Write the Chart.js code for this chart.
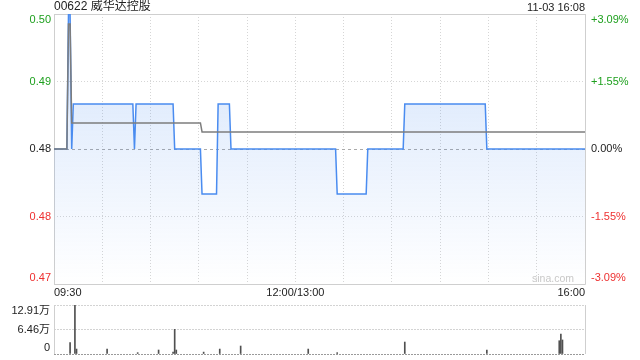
<!DOCTYPE html>
<html>
<head>
<meta charset="utf-8">
<script src="https://cdn.jsdelivr.net/npm/chart.js@4.4.0/dist/chart.umd.min.js"></script>
<style>
  html, body { margin: 0; padding: 0; background: #fff; }
  #wrap { position: relative; width: 640px; height: 360px; overflow: hidden; }
  #price { position: absolute; left: 0; top: 0; }
  #volume { position: absolute; left: 0; top: 295px; }
</style>
</head>
<body>
<div id="wrap">
  <canvas id="price" width="640" height="300"></canvas>
  <canvas id="volume" width="640" height="65"></canvas>
</div>
<script>
const title = '00622 威华达控股';
const stamp = '11-03 16:08';
const prevClose = 0.485;

const priceTicks = [0.47, 0.4775, 0.485, 0.4925, 0.5];
const priceLabels = ['0.47', '0.48', '0.48', '0.49', '0.50'];
const pctLabels = ['-3.09%', '-1.55%', '0.00%', '+1.55%', '+3.09%'];
const timeTicks = [0, 30, 60, 90, 120, 150, 180, 210, 240, 270, 300, 330];
const timeLabels = ['09:30', '12:00/13:00', '16:00'];
const timeLabelAt = [0, 150, 330];

// minutes after 09:30, lunch break removed
const priceMinutes = [0, 8, 9, 10, 11, 12, 49, 50, 51, 74, 75, 91, 92, 101, 102, 109, 110, 175, 176, 194, 195, 217, 218, 268, 269, 330];
const prices = [0.485, 0.485, 0.5, 0.5, 0.485, 0.49, 0.49, 0.485, 0.49, 0.49, 0.485, 0.485, 0.48, 0.48, 0.49, 0.49, 0.485, 0.485, 0.48, 0.48, 0.485, 0.485, 0.49, 0.49, 0.485, 0.485];

const avgMinutes = [0, 8, 9, 10, 11, 91, 92, 330];
const avgPrices = [0.485, 0.485, 0.4989, 0.4989, 0.4879, 0.4879, 0.4869, 0.4869];

const volMinutes = [10, 13, 14, 33, 52, 65, 74, 75, 76, 93, 103, 116, 158, 176, 218, 269, 314, 315, 316];
const volumes = [29800, 129100, 13000, 13000, 3500, 10500, 5000, 65000, 10500, 5000, 13000, 21000, 13000, 3500, 31500, 10500, 35000, 52700, 37000];

const volTicks = [0, 64550, 129100];
const volLabels = ['0', '6.46万', '12.91万'];

const FONT = '"Liberation Sans", Arial, "Noto Sans CJK SC", sans-serif';
const GREEN = '#1ea01e';
const RED = '#ee3030';
const TEXT = '#222';

Chart.defaults.font.family = FONT;

const toPoints = (xs, ys) => xs.map((x, i) => ({ x, y: ys[i] }));

const levelColor = v => {
  if (Math.abs(v - prevClose) < 1e-9) return TEXT;
  return v > prevClose ? GREEN : RED;
};

const framePlugin = {
  id: 'frame',
  beforeDatasetsDraw(chart, args, opts) {
    const { ctx, chartArea: a } = chart;
    ctx.save();
    ctx.strokeStyle = '#cfcfcf';
    ctx.lineWidth = 1;
    ctx.beginPath();
    if (opts.all) {
      ctx.rect(Math.round(a.left) + 0.5, Math.round(a.top) + 0.5, Math.round(a.right - a.left), Math.round(a.bottom - a.top));
    } else {
      ctx.moveTo(Math.round(a.left) + 0.5, a.top);
      ctx.lineTo(Math.round(a.left) + 0.5, a.bottom);
      ctx.moveTo(Math.round(a.right) + 0.5, a.top);
      ctx.lineTo(Math.round(a.right) + 0.5, a.bottom);
    }
    ctx.stroke();
    ctx.restore();
  },
};

const priceText = {
  id: 'priceText',
  afterDraw(chart) {
    const { ctx, chartArea: a, scales } = chart;
    ctx.save();
    ctx.textBaseline = 'middle';

    ctx.font = '12px ' + FONT;
    ctx.fillStyle = TEXT;
    ctx.textAlign = 'left';
    ctx.fillText(title, a.left, 7);
    ctx.font = '11px ' + FONT;
    ctx.textAlign = 'right';
    ctx.fillText(stamp, a.right, 7.5);

    priceTicks.forEach((v, i) => {
      let y = scales.y.getPixelForValue(v);
      y = Math.min(Math.max(y, a.top + 6), a.bottom - 6);
      ctx.fillStyle = levelColor(v);
      ctx.textAlign = 'right';
      ctx.fillText(priceLabels[i], a.left - 3, y);
      ctx.textAlign = 'left';
      ctx.fillText(pctLabels[i], a.right + 6, y);
    });

    ctx.fillStyle = TEXT;
    timeLabels.forEach((t, i) => {
      const x = scales.x.getPixelForValue(timeLabelAt[i]);
      ctx.textAlign = i === 0 ? 'left' : i === timeLabels.length - 1 ? 'right' : 'center';
      ctx.fillText(t, x, 292.5);
    });

    ctx.fillStyle = '#c8c8c8';
    ctx.textAlign = 'right';
    ctx.font = '10.5px ' + FONT;
    ctx.fillText('sina.com', a.right - 11, 279);
    ctx.restore();
  },
};

const volText = {
  id: 'volText',
  afterDraw(chart) {
    const { ctx, chartArea: a, scales } = chart;
    ctx.save();
    ctx.font = '11px ' + FONT;
    ctx.fillStyle = TEXT;
    ctx.textAlign = 'right';
    ctx.textBaseline = 'middle';
    volTicks.forEach((v, i) => {
      let y = scales.y.getPixelForValue(v);
      y = Math.min(Math.max(y, a.top + 6), a.bottom - 6);
      ctx.fillText(volLabels[i], a.left - 4, y);
    });
    ctx.restore();
  },
};

const areaFill = context => {
  const { ctx, chartArea } = context.chart;
  if (!chartArea) return 'rgba(74,140,240,0.1)';
  const g = ctx.createLinearGradient(0, chartArea.top, 0, chartArea.bottom);
  g.addColorStop(0, 'rgba(74,140,240,0.24)');
  g.addColorStop(1, 'rgba(74,140,240,0.0)');
  return g;
};

new Chart(document.getElementById('price'), {
  type: 'line',
  data: {
    datasets: [
      {
        label: 'avg',
        data: toPoints(avgMinutes, avgPrices),
        borderColor: '#7d7d7d',
        borderWidth: 1.5,
        pointRadius: 0,
        fill: false,
      },
      {
        label: 'price',
        data: toPoints(priceMinutes, prices),
        borderColor: '#4a8cf0',
        borderWidth: 1.5,
        pointRadius: 0,
        fill: 'start',
        backgroundColor: areaFill,
      },
    ],
  },
  options: {
    responsive: false,
    animation: false,
    layout: { padding: { left: 54, right: 55, top: 14, bottom: 16 } },
    plugins: {
      legend: { display: false },
      tooltip: { enabled: false },
      frame: { all: true },
    },
    scales: {
      x: {
        type: 'linear',
        min: 0,
        max: 330,
        afterBuildTicks: s => { s.ticks = timeTicks.map(value => ({ value })); },
        ticks: { display: false },
        grid: { color: '#d6d6d6', drawTicks: false },
        border: { display: false, dash: [1, 2] },
      },
      y: {
        min: 0.47,
        max: 0.5,
        afterBuildTicks: s => { s.ticks = priceTicks.map(value => ({ value })); },
        ticks: { display: false },
        grid: {
          drawTicks: false,
          color: c => (c.tick && Math.abs(c.tick.value - prevClose) < 1e-9 ? '#aaaaaa' : '#d6d6d6'),
        },
        border: {
          display: false,
          dash: c => (c.tick && Math.abs(c.tick.value - prevClose) < 1e-9 ? [3, 3] : [1, 2]),
        },
      },
    },
  },
  plugins: [framePlugin, priceText],
});

new Chart(document.getElementById('volume'), {
  type: 'bar',
  data: {
    datasets: [
      {
        label: 'volume',
        data: toPoints(volMinutes, volumes),
        backgroundColor: '#505050',
        barThickness: 1,
      },
    ],
  },
  options: {
    responsive: false,
    animation: false,
    layout: { padding: { left: 54, right: 55, top: 10, bottom: 6 } },
    plugins: {
      legend: { display: false },
      tooltip: { enabled: false },
      frame: { all: false },
    },
    scales: {
      x: {
        type: 'linear',
        min: 0,
        max: 330,
        offset: false,
        ticks: { display: false },
        grid: { display: false, drawTicks: false },
        border: { display: false },
      },
      y: {
        min: 0,
        max: 129100,
        afterBuildTicks: s => { s.ticks = volTicks.map(value => ({ value })); },
        ticks: { display: false },
        grid: {
          drawTicks: false,
          color: c => (c.tick && c.tick.value === 0 ? '#9a9a9a' : '#d3d3d3'),
        },
        border: { display: false, dash: [2, 1] },
      },
    },
  },
  plugins: [framePlugin, volText],
});
</script>
</body>
</html>
